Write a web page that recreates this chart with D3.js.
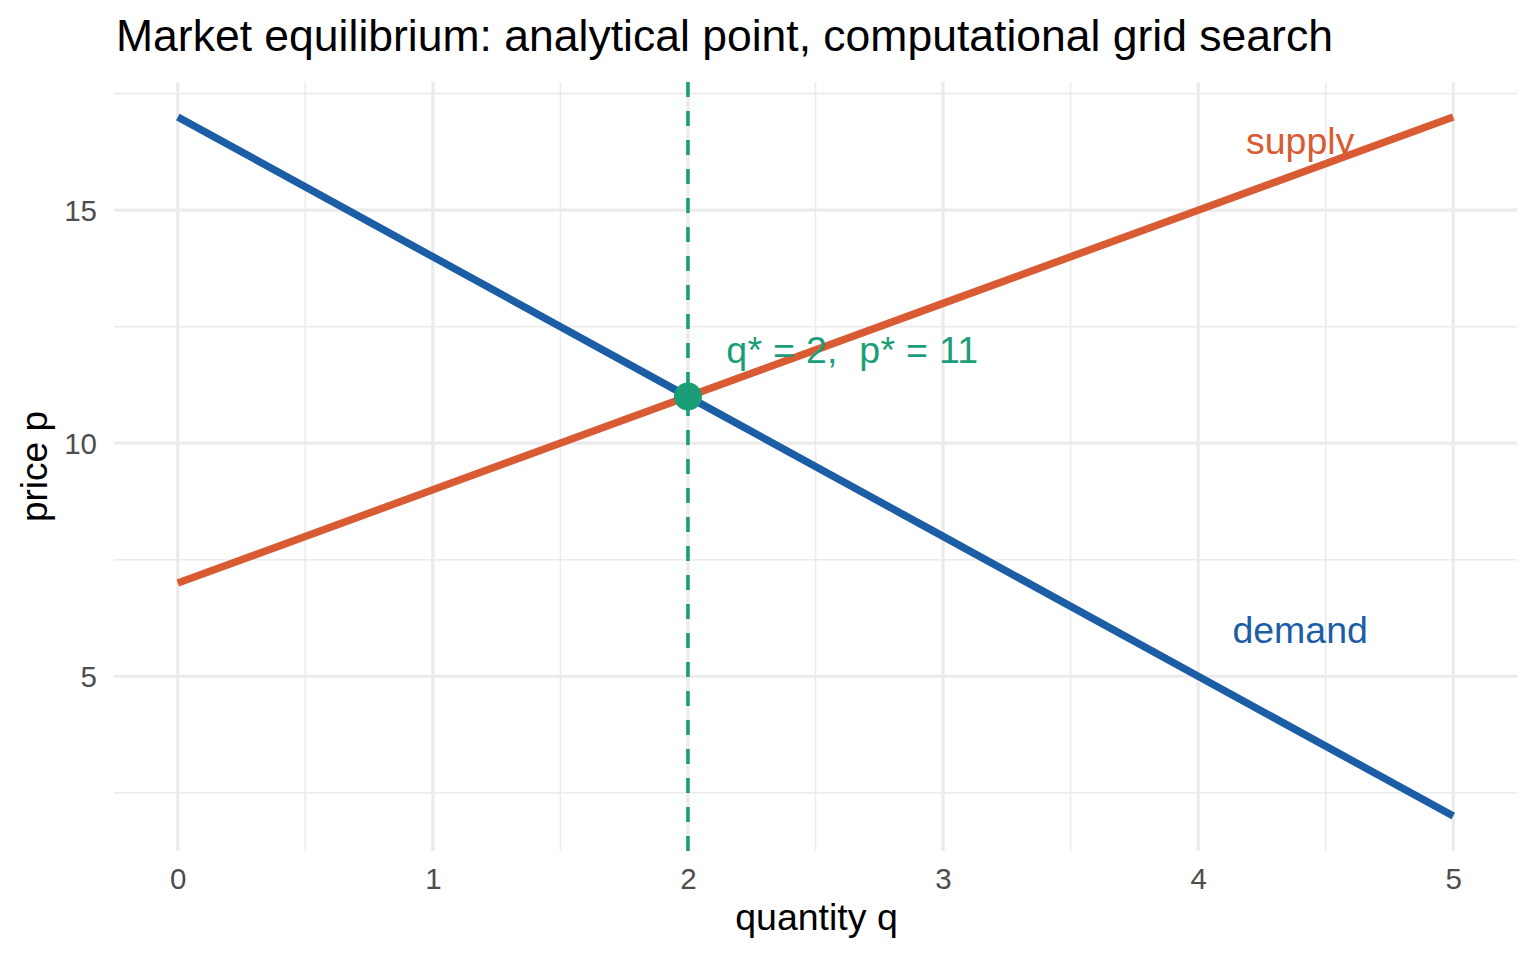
<!DOCTYPE html>
<html>
<head>
<meta charset="utf-8">
<script src="https://cdn.jsdelivr.net/npm/d3@7"></script>
<style>
  html, body { margin: 0; padding: 0; background: #fff; }
  svg { display: block; font-family: "Liberation Sans", Arial, Helvetica, sans-serif; }
</style>
</head>
<body>
<svg id="chart" width="1536" height="960"></svg>
<script>
// ---- data ----
const quantity = [0, 1, 2, 3, 4, 5];
const demandPrice = [17, 14, 11, 8, 5, 2];
const supplyPrice = [7, 9, 11, 13, 15, 17];
const equilibrium = { q: 2, p: 11 };
const xTicks = [0, 1, 2, 3, 4, 5];
const xMinor = [0.5, 1.5, 2.5, 3.5, 4.5];
const yTicks = [5, 10, 15];
const yMinor = [2.5, 7.5, 12.5, 17.5];
const curveLabels = [
  { text: "supply", q: 4.4, p: 16.5, key: "supply" },
  { text: "demand", q: 4.4, p: 6, key: "demand" }
];
const eqLabel = { text: "q* = 2,  p* = 11", q: 2.15, p: 12 };
const titleText = "Market equilibrium: analytical point, computational grid search";

const colors = { demand: "#1B5EA6", supply: "#D95B33", eq: "#1B9E77" };

// ---- layout ----
const svg = d3.select("#chart");
const panel = { left: 114, right: 1517, top: 82, bottom: 851 };

const x = d3.scaleLinear().domain([-0.25, 5.25]).range([panel.left, panel.right]);
const y = d3.scaleLinear().domain([1.25, 17.75]).range([panel.bottom, panel.top]);

const grid = svg.append("g");
// minor grid
grid.selectAll(".xm").data(xMinor).join("line")
  .attr("x1", d => x(d)).attr("x2", d => x(d))
  .attr("y1", panel.top).attr("y2", panel.bottom)
  .attr("stroke", "#EBEBEB").attr("stroke-width", 1.6);
grid.selectAll(".ym").data(yMinor).join("line")
  .attr("y1", d => y(d)).attr("y2", d => y(d))
  .attr("x1", panel.left).attr("x2", panel.right)
  .attr("stroke", "#EBEBEB").attr("stroke-width", 1.6);
// major grid
grid.selectAll(".xM").data(xTicks).join("line")
  .attr("x1", d => x(d)).attr("x2", d => x(d))
  .attr("y1", panel.top).attr("y2", panel.bottom)
  .attr("stroke", "#EBEBEB").attr("stroke-width", 3.2);
grid.selectAll(".yM").data(yTicks).join("line")
  .attr("y1", d => y(d)).attr("y2", d => y(d))
  .attr("x1", panel.left).attr("x2", panel.right)
  .attr("stroke", "#EBEBEB").attr("stroke-width", 3.2);

// axes (labels only)
const xAxis = d3.axisBottom(x).tickValues(xTicks).tickSize(0).tickPadding(0).tickFormat(d3.format("d"));
const gx = svg.append("g").attr("transform", `translate(0,${panel.bottom})`).call(xAxis);
gx.select(".domain").remove();
gx.selectAll("text").attr("dy", null).attr("y", 38).attr("fill", "#4D4D4D")
  .style("font-size", "29.5px").style("font-family", "Liberation Sans, Arial, sans-serif");

const yAxis = d3.axisLeft(y).tickValues(yTicks).tickSize(0).tickPadding(0).tickFormat(d3.format("d"));
const gy = svg.append("g").attr("transform", `translate(${panel.left},0)`).call(yAxis);
gy.select(".domain").remove();
gy.selectAll("text").attr("x", -17).attr("dy", "0.36em").attr("fill", "#4D4D4D")
  .style("font-size", "29.5px").style("font-family", "Liberation Sans, Arial, sans-serif");

// dashed equilibrium line
svg.append("line")
  .attr("x1", x(equilibrium.q)).attr("x2", x(equilibrium.q))
  .attr("y1", panel.top).attr("y2", panel.bottom)
  .attr("stroke", colors.eq).attr("stroke-width", 3.6)
  .attr("stroke-dasharray", "15,14");

// curves
const line = d3.line().x(d => x(d[0])).y(d => y(d[1]));
const demandPts = quantity.map((q, i) => [q, demandPrice[i]]);
const supplyPts = quantity.map((q, i) => [q, supplyPrice[i]]);
svg.append("path").datum(demandPts).attr("d", line)
  .attr("fill", "none").attr("stroke", colors.demand).attr("stroke-width", 7.5);
svg.append("path").datum(supplyPts).attr("d", line)
  .attr("fill", "none").attr("stroke", colors.supply).attr("stroke-width", 7.5);

// equilibrium point
svg.append("circle")
  .attr("cx", x(equilibrium.q)).attr("cy", y(equilibrium.p)).attr("r", 14)
  .attr("fill", colors.eq);

// labels
svg.selectAll(".clab").data(curveLabels).join("text")
  .attr("x", d => x(d.q)).attr("y", d => y(d.p))
  .attr("text-anchor", "middle").attr("dy", "0.36em")
  .attr("fill", d => colors[d.key])
  .style("font-size", "37.5px")
  .text(d => d.text);

svg.append("text")
  .attr("x", x(eqLabel.q)).attr("y", y(eqLabel.p))
  .attr("dy", "0.36em").attr("fill", colors.eq)
  .style("font-size", "37.5px")
  .style("white-space", "pre")
  .attr("xml:space", "preserve")
  .attr("textLength", 252).attr("lengthAdjust", "spacing")
  .text(eqLabel.text);

// axis titles
svg.append("text")
  .attr("x", (panel.left + panel.right) / 2 + 1).attr("y", 930)
  .attr("text-anchor", "middle").attr("fill", "#000")
  .style("font-size", "37.5px").text("quantity q");
svg.append("text")
  .attr("transform", `translate(47,${(panel.top + panel.bottom) / 2}) rotate(-90)`)
  .attr("text-anchor", "middle").attr("fill", "#000")
  .style("font-size", "37px").text("price p");

// title
svg.append("text")
  .attr("x", 116).attr("y", 51)
  .attr("fill", "#000")
  .style("font-size", "44.5px").text(titleText);
</script>
</body>
</html>
